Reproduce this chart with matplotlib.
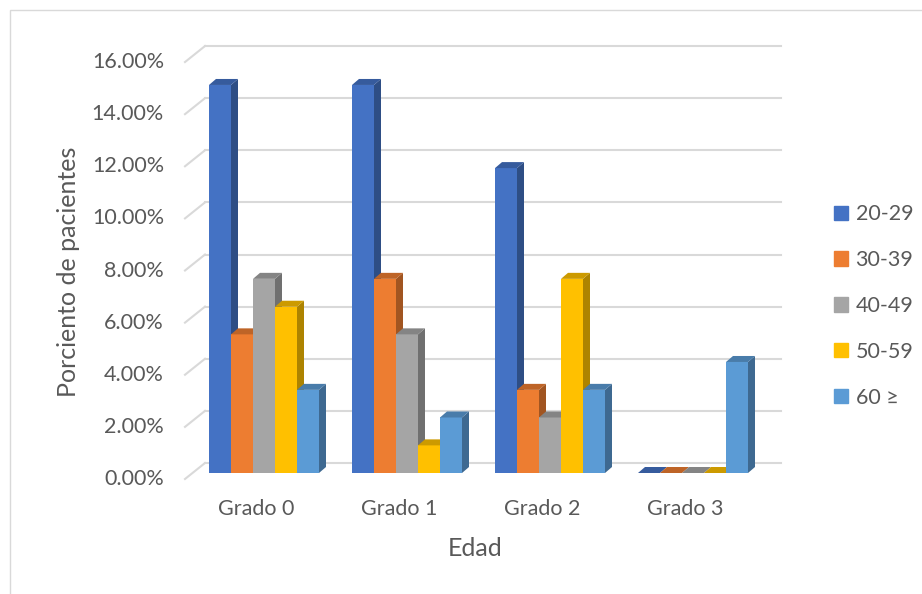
import matplotlib.pyplot as plt
import matplotlib.colors as mcolors
from matplotlib.patches import Polygon, Rectangle, Patch

grados = ['Grado 0', 'Grado 1', 'Grado 2', 'Grado 3']
edades = ['20-29', '30-39', '40-49', '50-59', '60 ≥']
colores = ['#4472C4', '#ED7D31', '#A5A5A5', '#FFC000', '#5B9BD5']

# porciento de pacientes de cada grupo de edad por grado
p_20_29 = [14.89, 14.89, 11.70, 0.00]
p_30_39 = [5.32, 7.45, 3.19, 0.00]
p_40_49 = [7.45, 5.32, 2.13, 0.00]
p_50_59 = [6.38, 1.06, 7.45, 0.00]
p_60 = [3.19, 2.13, 3.19, 4.26]
series = [p_20_29, p_30_39, p_40_49, p_50_59, p_60]

yticks = [0, 2, 4, 6, 8, 10, 12, 14, 16]

TEXTO = '#595959'
GRID = '#D9D9D9'
plt.rcParams['font.family'] = ['Lato', 'DejaVu Sans']
plt.rcParams['font.size'] = 15.5


def sombra(c, f):
    r, g, b = mcolors.to_rgb(c)
    return (r * f, g * f, b * f)


W, H = 922, 594
fig = plt.figure(figsize=(W / 100, H / 100), dpi=100)

# escala en pixeles por unidad de datos
ppx, ppy = 143.0, 26.06
x0, x1 = -0.8, 3.75
y0, y1 = -0.65, 17.0
ax = fig.add_axes([(264 + x0 * ppx) / W, (H - 473 + y0 * ppy) / H,
                   (x1 - x0) * ppx / W, (y1 - y0) * ppy / H])
ax.set_xlim(x0, x1)
ax.set_ylim(y0, y1)
ax.axis('off')


def ox(px):
    return px / ppx


def oy(px):
    return px / ppy


# profundidad de barra, pared del fondo y plano frontal
dxb, dyb = ox(7), oy(6)
dxw, dyw = ox(12.5), oy(10)
dxf, dyf = ox(-7.5), oy(-6)

# rejilla sobre la pared lateral y la del fondo
for v in yticks:
    ax.plot([-0.5 + dxf, -0.5 + dxw], [v + dyf, v + dyw], color=GRID, lw=1.5, zorder=0)
    ax.plot([-0.5 + dxw, 3.53 + dxw], [v + dyw, v + dyw], color=GRID, lw=1.5, zorder=0)
    ax.text(-0.5 + dxf - ox(21), v + dyf, f'{v:.2f}%', ha='right', va='center', color=TEXTO)

bw = 22 / ppx
for i in range(len(grados)):
    for j, (vals, c) in enumerate(zip(series, colores)):
        xl = i - 2.5 * bw + j * bw
        v = vals[i]
        ax.bar(xl, v, width=bw, align='edge', color=c, lw=0, zorder=2)
        lado = Polygon([(xl + bw, 0), (xl + bw + dxb, dyb), (xl + bw + dxb, v + dyb), (xl + bw, v)],
                       closed=True, fc=sombra(c, 0.68), lw=0, zorder=2)
        tapa = Polygon([(xl, v), (xl + dxb, v + dyb), (xl + bw + dxb, v + dyb), (xl + bw, v)],
                       closed=True, fc=sombra(c, 0.8), lw=0, zorder=2)
        ax.add_patch(lado)
        ax.add_patch(tapa)
    ax.text(i + dxf, -oy(36), grados[i], ha='center', va='center', color=TEXTO)

fig.text(475 / W, 1 - 549 / H, 'Edad', ha='center', va='center', color=TEXTO, fontsize=18)
fig.text(68 / W, 1 - 272 / H, 'Porciento de pacientes', ha='center', va='center',
         rotation=90, color=TEXTO, fontsize=18)

handles = [Patch(color=c, label=e) for c, e in zip(colores, edades)]
fig.legend(handles=handles, loc='center left', bbox_to_anchor=(834 / W, 1 - 306 / H),
           frameon=False, handlelength=0.65, handleheight=0.65, handletextpad=0.35,
           labelspacing=1.2, borderpad=0, borderaxespad=0, labelcolor=TEXTO)

# marco del grafico
fig.add_artist(Rectangle((10 / W, -0.1), 1.2, 1.1 - 10 / H, transform=fig.transFigure,
                         fill=False, ec=GRID, lw=1))

fig.savefig('out.png', dpi=100)
